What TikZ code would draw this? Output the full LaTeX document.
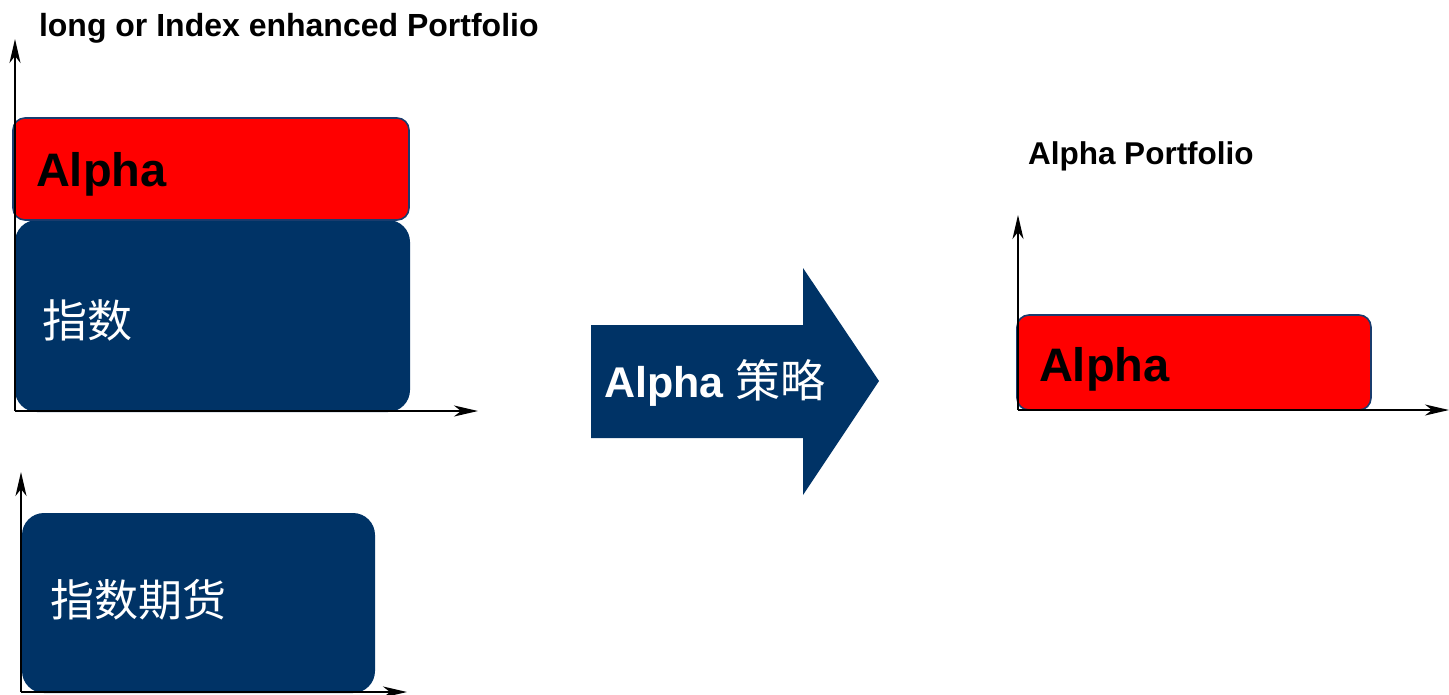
\documentclass[tikz,border=0pt]{standalone}
\usepackage{fontspec}
\setmainfont{Liberation Sans}
\newfontfamily\cjk{Noto Sans CJK SC}
\usetikzlibrary{arrows.meta}
\definecolor{navy}{RGB}{0,51,102}
\definecolor{edge}{RGB}{25,60,110}
\tikzset{
  axis/.style={line width=2pt,-{Stealth[length=24pt,width=11pt,inset=7pt]}},
  redbar/.style={draw=edge,line width=1.6pt,fill=red,rounded corners=12pt,
    anchor=north west,inner sep=0pt,outer sep=0pt},
  navybar/.style={fill=navy,rounded corners=22pt,anchor=north west,
    inner sep=0pt,outer sep=0pt},
  label/.style={anchor=base west,inner sep=0pt,outer sep=0pt},
  heading/.style={label,font=\bfseries\fontsize{32}{38}\selectfont}
}
\begin{document}
\begin{tikzpicture}[x=1pt,y=-1pt]
\useasboundingbox (0,0) rectangle (1449,694);

% upper left chart: index plus alpha
\node[heading] (t1) at (39,36) {long or Index enhanced Portfolio};
\node[navybar,minimum width=395pt,minimum height=192pt] (idx) at (15,220) {};
\node[redbar,minimum width=396pt,minimum height=102pt] (a1) at (13,118) {};
\node[label,text=black,font=\bfseries\fontsize{47}{52}\selectfont] (a1t) at (36,186) {Alpha};
\node[label,text=white,font=\cjk\fontsize{45}{50}\selectfont] (idxt) at (42,337) {指数};
\coordinate (o1) at (15,411);
\coordinate (y1) at (15,39);
\coordinate (x1) at (478,411);
\draw[axis] (o1) -- (y1);
\draw[axis] (o1) -- (x1);

% lower left chart: index futures
\node[navybar,minimum width=353pt,minimum height=180pt] (fut) at (22,513) {};
\node[label,text=white,font=\cjk\fontsize{44}{50}\selectfont] (futt) at (50,616) {指数期货};
\coordinate (o2) at (21,692);
\coordinate (y2) at (21,472);
\coordinate (x2) at (407,692);
\draw[axis] (o2) -- (y2);
\draw[axis] (o2) -- (x2);

% transformation arrow
\fill[navy] (591,325) -- (803,325) -- (803,268) -- (879,381) -- (803,495)
  -- (803,438) -- (591,438) -- cycle;
\node[label,text=white,font=\bfseries\fontsize{43}{48}\selectfont] (strat) at (604,397)
  {Alpha {\cjk\mdseries\fontsize{45}{50}\selectfont 策略}};

% right chart: alpha only
\node[heading,font=\bfseries\fontsize{31.5}{38}\selectfont] (t2) at (1028,164) {Alpha Portfolio};
\node[redbar,minimum width=354pt,minimum height=95pt] (a2) at (1017,315) {};
\node[label,text=black,font=\bfseries\fontsize{47}{52}\selectfont] (a2t) at (1039,381) {Alpha};
\coordinate (o3) at (1018,410);
\coordinate (y3) at (1018,215);
\coordinate (x3) at (1449,410);
\draw[axis] (o3) -- (y3);
\draw[axis] (o3) -- (x3);
\end{tikzpicture}
\end{document}
